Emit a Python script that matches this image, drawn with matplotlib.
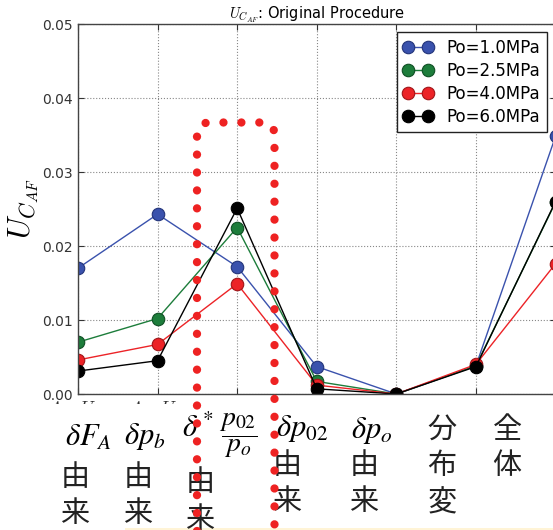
import matplotlib
matplotlib.use('Agg')
import matplotlib.pyplot as plt
from matplotlib.patches import Rectangle
from matplotlib.path import Path
from matplotlib.patches import PathPatch

### Data
x_pos = [0, 1, 2, 3, 4, 5, 6]
x_ticklabels = [r'$A\times U_{F_A}$', r'$A\times U_{p_b}$', '', '', '', '', '']
y_ticks = [0.00, 0.01, 0.02, 0.03, 0.04, 0.05]

u_po_1_0 = [0.0170, 0.0243, 0.0172, 0.0037, 0.0000, 0.0038, 0.0348]
u_po_2_5 = [0.0070, 0.0102, 0.0225, 0.0017, 0.0000, 0.0038, 0.0259]
u_po_4_0 = [0.0046, 0.0067, 0.0149, 0.0012, 0.0000, 0.0040, 0.0176]
u_po_6_0 = [0.0031, 0.0045, 0.0251, 0.0007, 0.0000, 0.0037, 0.0260]

series = [u_po_1_0, u_po_2_5, u_po_4_0, u_po_6_0]
labels = ['Po=1.0MPa', 'Po=2.5MPa', 'Po=4.0MPa', 'Po=6.0MPa']
colors = ['#3a52ad', '#1d7d3b', '#ec2327', '#000000']
edges = ['#23347a', '#0f4f24', '#a01518', '#000000']

# annotation columns under the plot (text, x px, y px)
math_notes = [(r'$\delta F_A$', 88, 437), (r'$\delta p_b$', 145, 437),
              (r'$\delta^*$', 198, 428), (r'$\delta p_{02}$', 302, 429),
              (r'$\delta p_o$', 372, 430)]
cjk_notes = [('由', 75, 478), ('来', 75, 514),
             ('由', 138, 478), ('来', 138, 514),
             ('由', 200, 483), ('来', 200, 520),
             ('由', 287, 466), ('来', 287, 502),
             ('由', 364, 466), ('来', 364, 502),
             ('分', 442, 430), ('布', 442, 466), ('変', 442, 503),
             ('全', 507, 430), ('体', 507, 466)]

W, H = 553, 530
plt.rcParams['mathtext.fontset'] = 'cm'

fig = plt.figure(figsize=(W / 100, H / 100), dpi=100)
ax = fig.add_axes([78 / W, 1 - 394 / H, 477.5 / W, 370 / H])

for vals, lab, c, ec in zip(series, labels, colors, edges):
    ax.plot(x_pos, vals, '-o', color=c, lw=1.0, markersize=9,
            markerfacecolor=c, markeredgecolor=ec, markeredgewidth=0.8, label=lab)

ax.set_xlim(0, 6)
ax.set_ylim(0, 0.05)
ax.set_xticks(x_pos)
ax.set_xticklabels(x_ticklabels, fontsize=13)
ax.set_yticks(y_ticks)
ax.set_yticklabels(['%.2f' % v for v in y_ticks], fontsize=10)
ax.tick_params(direction='in', top=True, right=True, length=4, colors='#333333')
ax.tick_params(axis='x', pad=4)
ax.grid(True, linestyle=':', color='#888888', lw=0.8)
for s in ax.spines.values():
    s.set_color('#444444')
    s.set_linewidth(1.0)
ax.set_title(r'$U_{C_{AF}}$: Original Procedure', fontsize=10.5, pad=4)
ax.set_ylabel(r'$U_{C_{AF}}$', fontsize=22)
ax.yaxis.set_label_coords(-0.077, 0.5)

ax.legend(loc='upper right', bbox_to_anchor=(547 / W, 1 - 32 / H),
          bbox_transform=fig.transFigure, borderaxespad=0, fontsize=12,
          numpoints=2, handlelength=1.8, handletextpad=0.8, labelspacing=0.3,
          borderpad=0.4, fancybox=False, edgecolor='#222222', framealpha=1)

### overlay put on top of the chart
fig.patches.append(Rectangle((0, 0), 1, 1 - 404 / H, transform=fig.transFigure,
                             facecolor='white', edgecolor='none', zorder=2))
fig.patches.append(Rectangle((125 / W, 0), 1, 2.5 / H, transform=fig.transFigure,
                             facecolor='#fff4d6', edgecolor='none', zorder=2.5))

for txt, px, py in math_notes:
    fig.text(px / W, 1 - py / H, txt, fontsize=22, ha='center', va='center',
             math_fontfamily='stix', zorder=3)
fig.text(238 / W, 1 - 436 / H, r'$\dfrac{p_{02}}{p_o}$', fontsize=20,
         ha='center', va='center', math_fontfamily='stix', zorder=3)
for txt, px, py in cjk_notes:
    fig.text(px / W, 1 - py / H, txt, fontsize=21, ha='center', va='center',
             family=['Noto Sans CJK JP', 'DejaVu Sans'], color='#222222', zorder=3)

# red dotted rounded frame
r = 12.5
verts = [(197, 560), (197, 122.5 + r), (197, 122.5), (197 + r, 122.5),
         (274.5 - r, 122.5), (274.5, 122.5), (274.5, 122.5 + r), (274.5, 560)]
codes = [Path.MOVETO, Path.LINETO, Path.CURVE3, Path.CURVE3,
         Path.LINETO, Path.CURVE3, Path.CURVE3, Path.LINETO]
verts = [(vx / W, 1 - vy / H) for vx, vy in verts]
frame = PathPatch(Path(verts, codes), transform=fig.transFigure, fill=False,
                  edgecolor='#ee2222', lw=6, linestyle=(0, (0.001, 2.15)),
                  capstyle='round', zorder=5)
fig.patches.append(frame)

fig.savefig('out.png', dpi=100)
